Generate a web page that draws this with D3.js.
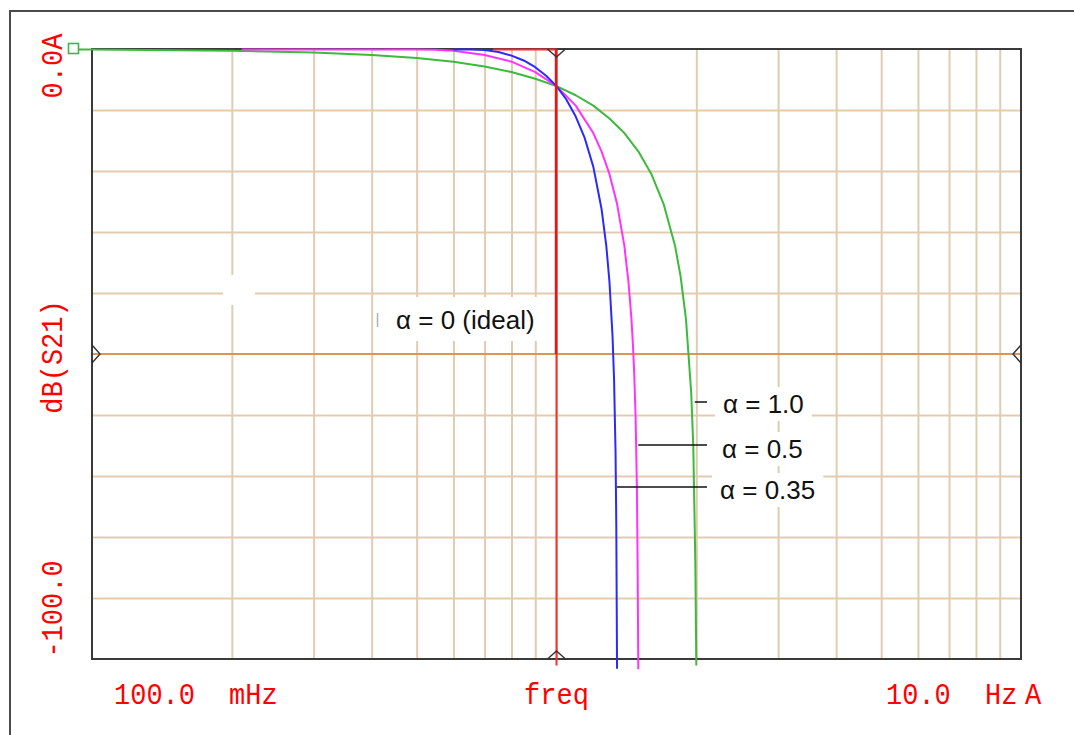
<!DOCTYPE html>
<html>
<head>
<meta charset="utf-8">
<script src="https://cdn.jsdelivr.net/npm/d3@7/dist/d3.min.js"></script>
<style>
  html, body { margin: 0; padding: 0; background: #ffffff; }
  svg { display: block; }
  .axlabel { font-family: "Liberation Mono", "DejaVu Sans Mono", monospace; font-size: 27px; fill: #ff0000; }
  .note { font-family: "Liberation Sans", Arial, sans-serif; font-size: 26px; fill: #111111; }
</style>
</head>
<body>
<svg id="chart" width="1074" height="735"></svg>
<script>
// Raised-cosine filter responses, dB(S21) versus frequency (Hz)
const freqAlpha10 = [0.1, 0.2, 0.3, 0.4, 0.5, 0.6, 0.7, 0.8, 0.9, 1.0, 1.1, 1.2, 1.3, 1.4, 1.5, 1.6, 1.7, 1.8, 1.85, 1.9, 1.95, 1.97, 1.99, 2.0];
const dbAlpha10   = [0, -0.2, -0.5, -0.9, -1.4, -2.0, -2.8, -3.7, -4.8, -6.0, -7.5, -9.2, -11.3, -13.7, -16.7, -20.4, -25.3, -32.2, -37.2, -44.2, -56.3, -65, -84, -101];

const freqAlpha05 = [0.21, 0.5, 0.55, 0.6, 0.7, 0.8, 0.9, 1.0, 1.1, 1.2, 1.25, 1.3, 1.35, 1.4, 1.43, 1.45, 1.46, 1.47, 1.48, 1.49, 1.495, 1.5];
const dbAlpha05   = [0, 0, -0.05, -0.2, -0.9, -2.0, -3.7, -6.0, -9.2, -13.7, -16.7, -20.4, -25.3, -32.2, -38.4, -44.2, -48.1, -53.1, -60.1, -72.2, -84.2, -101.6];

const freqAlpha035 = [0.6, 0.65, 0.7, 0.75, 0.8, 0.85, 0.9, 0.95, 1.0, 1.05, 1.1, 1.15, 1.2, 1.25, 1.28, 1.3, 1.32, 1.33, 1.34, 1.345, 1.35];
const dbAlpha035   = [0, 0, -0.1, -0.4, -1.0, -1.8, -2.9, -4.3, -6.0, -8.2, -11.0, -14.5, -19.2, -26.1, -32.2, -38.0, -46.9, -53.9, -65.9, -78, -101.5];

const freqIdeal = [0.73, 1.0, 1.0];
const dbIdeal   = [0, 0, -101];

// Axis ranges and grid
const freqDomain = [0.1, 10];
const dbDomain = [0, -100];
const freqGrid = [0.2, 0.3, 0.4, 0.5, 0.6, 0.7, 0.8, 0.9, 1, 2, 3, 4, 5, 6, 7, 8, 9];
const dbGrid = [-10, -20, -30, -40, -60, -70, -80, -90];
const markerFreq = 1.0;
const markerDb = -50;

// Axis text
const yTopLabel = "0.0A";
const yMidLabel = "dB(S21)";
const yBottomLabel = "-100.0";
const xLeftLabels = ["100.0", "mHz"];
const xMidLabel = "freq";
const xRightLabels = ["10.0", "Hz", "A"];

// Trace annotations
const noteTexts = ["\u03b1 = 1.0", "\u03b1 = 0.5", "\u03b1 = 0.35"];
const noteAnchorFreq = [1.985, 1.5, 1.35];

const svg = d3.select("#chart");
const L = 92, R = 1021, T = 49, B = 659;

const x = d3.scaleLog().domain(freqDomain).range([L, R]);
const y = d3.scaleLinear().domain(dbDomain).range([T, B]);

// outer frame
svg.append("path").attr("d", "M10,740 L10,11 L1080,11")
  .attr("fill", "none").attr("stroke", "#4a4a4a").attr("stroke-width", 2);

// grid lines
const gridColor = "#e3cbb1";
svg.append("g").attr("transform", `translate(0,${B})`)
  .call(d3.axisBottom(x).tickValues(freqGrid).tickSize(-(B - T)).tickFormat(""))
  .call(g => g.select(".domain").remove())
  .call(g => g.selectAll("line").attr("stroke", gridColor).attr("stroke-width", 2));
svg.append("g").attr("transform", `translate(${L},0)`)
  .call(d3.axisLeft(y).tickValues(dbGrid).tickSize(-(R - L)).tickFormat(""))
  .call(g => g.select(".domain").remove())
  .call(g => g.selectAll("line").attr("stroke", gridColor).attr("stroke-width", 2));

// marker level line
svg.append("line").attr("x1", L).attr("x2", R).attr("y1", y(markerDb)).attr("y2", y(markerDb))
  .attr("stroke", "#d4985e").attr("stroke-width", 2);

// empty label box on the grid
svg.append("rect").attr("x", 223).attr("y", 275).attr("width", 32).attr("height", 30).attr("fill", "#ffffff");

// plot frame
svg.append("rect").attr("x", L).attr("y", T).attr("width", R - L).attr("height", B - T)
  .attr("fill", "none").attr("stroke", "#3a3a3a").attr("stroke-width", 2);

// trace marker square on the left
svg.append("line").attr("x1", 78).attr("x2", L).attr("y1", y(0) + 0.5).attr("y2", y(0) + 0.5)
  .attr("stroke", "#3cba3c").attr("stroke-width", 2);
svg.append("rect").attr("x", 68.5).attr("y", 43.5).attr("width", 10).attr("height", 10)
  .attr("fill", "none").attr("stroke", "#3cba3c").attr("stroke-width", 1.6);

const line = d3.line().x(d => x(d[0])).y(d => y(d[1]) + 0.5);
const traces = [
  { f: freqAlpha10, v: dbAlpha10, color: "#3cba3c" },
  { f: freqAlpha05, v: dbAlpha05, color: "#ff33ff" },
  { f: freqAlpha035, v: dbAlpha035, color: "#2a2aff" },
  { f: freqIdeal, v: dbIdeal, color: "#ff2a2a" }
];
traces.forEach(t => {
  svg.append("path").datum(t.f.map((f, i) => [f, t.v[i]]))
    .attr("d", line).attr("fill", "none")
    .attr("stroke", t.color).attr("stroke-width", 2).attr("stroke-linejoin", "round");
});
// upper part of the ideal edge, down to the marker level
svg.append("line").attr("x1", x(markerFreq) - 0.5).attr("x2", x(markerFreq) - 0.5)
  .attr("y1", y(0)).attr("y2", y(markerDb))
  .attr("stroke", "#e01818").attr("stroke-width", 2.4);

// cursor markers
const mk = svg.append("g").attr("fill", "none").attr("stroke", "#333").attr("stroke-width", 1.4);
const mx = x(markerFreq), my = y(markerDb);
mk.append("path").attr("d", `M${mx - 9},${T} L${mx},${T + 8} L${mx + 9},${T}`);
mk.append("path").attr("d", `M${mx - 9},${B} L${mx},${B - 8} L${mx + 9},${B}`);
mk.append("path").attr("d", `M${L},${my - 9} L${L + 8},${my} L${L},${my + 9}`);
mk.append("path").attr("d", `M${R},${my - 9} L${R - 8},${my} L${R},${my + 9}`);

// ideal-response label
svg.append("rect").attr("x", 386).attr("y", 297).attr("width", 155).attr("height", 44).attr("fill", "#ffffff");
svg.append("line").attr("x1", 377.5).attr("x2", 377.5).attr("y1", 313).attr("y2", 327)
  .attr("stroke", "#b0b0b0").attr("stroke-width", 1.5);
svg.append("text").attr("class", "note").attr("x", 396).attr("y", 329).text("\u03b1 = 0 (ideal)");

// trace labels with leader lines
const noteBaseline = [413, 458, 499];
const noteX = [723, 722, 720];
const noteLeaderY = [402, 445, 487];
noteTexts.forEach((t, i) => {
  const tx = svg.append("text").attr("class", "note").attr("x", noteX[i]).attr("y", noteBaseline[i]).text(t);
  const bb = tx.node().getBBox();
  svg.insert("rect", () => tx.node())
    .attr("x", bb.x - 8).attr("y", bb.y - 2).attr("width", bb.width + 16).attr("height", bb.height + 4)
    .attr("fill", "#ffffff");
  svg.append("line")
    .attr("x1", x(noteAnchorFreq[i])).attr("x2", 707)
    .attr("y1", noteLeaderY[i]).attr("y2", noteLeaderY[i])
    .attr("stroke", "#111").attr("stroke-width", 1.5);
});

// axis text
const sy = 1.12;
function vlabel(text, cx, cy) {
  svg.append("text").attr("class", "axlabel")
    .attr("transform", `translate(${cx},${cy}) rotate(-90) scale(1,${sy})`)
    .attr("text-anchor", "middle").text(text);
}
vlabel(yTopLabel, 62, 66);
vlabel(yMidLabel, 62, 357);
vlabel(yBottomLabel, 62, 609);

function hlabel(text, px, anchor) {
  svg.append("text").attr("class", "axlabel")
    .attr("transform", `translate(${px},704) scale(1,${sy})`)
    .attr("text-anchor", anchor).text(text);
}
hlabel(xLeftLabels[0], 114, "start");
hlabel(xLeftLabels[1], 229, "start");
hlabel(xMidLabel, x(markerFreq), "middle");
hlabel(xRightLabels[0], 886, "start");
hlabel(xRightLabels[1], 985, "start");
hlabel(xRightLabels[2], 1025, "start");
</script>
</body>
</html>
